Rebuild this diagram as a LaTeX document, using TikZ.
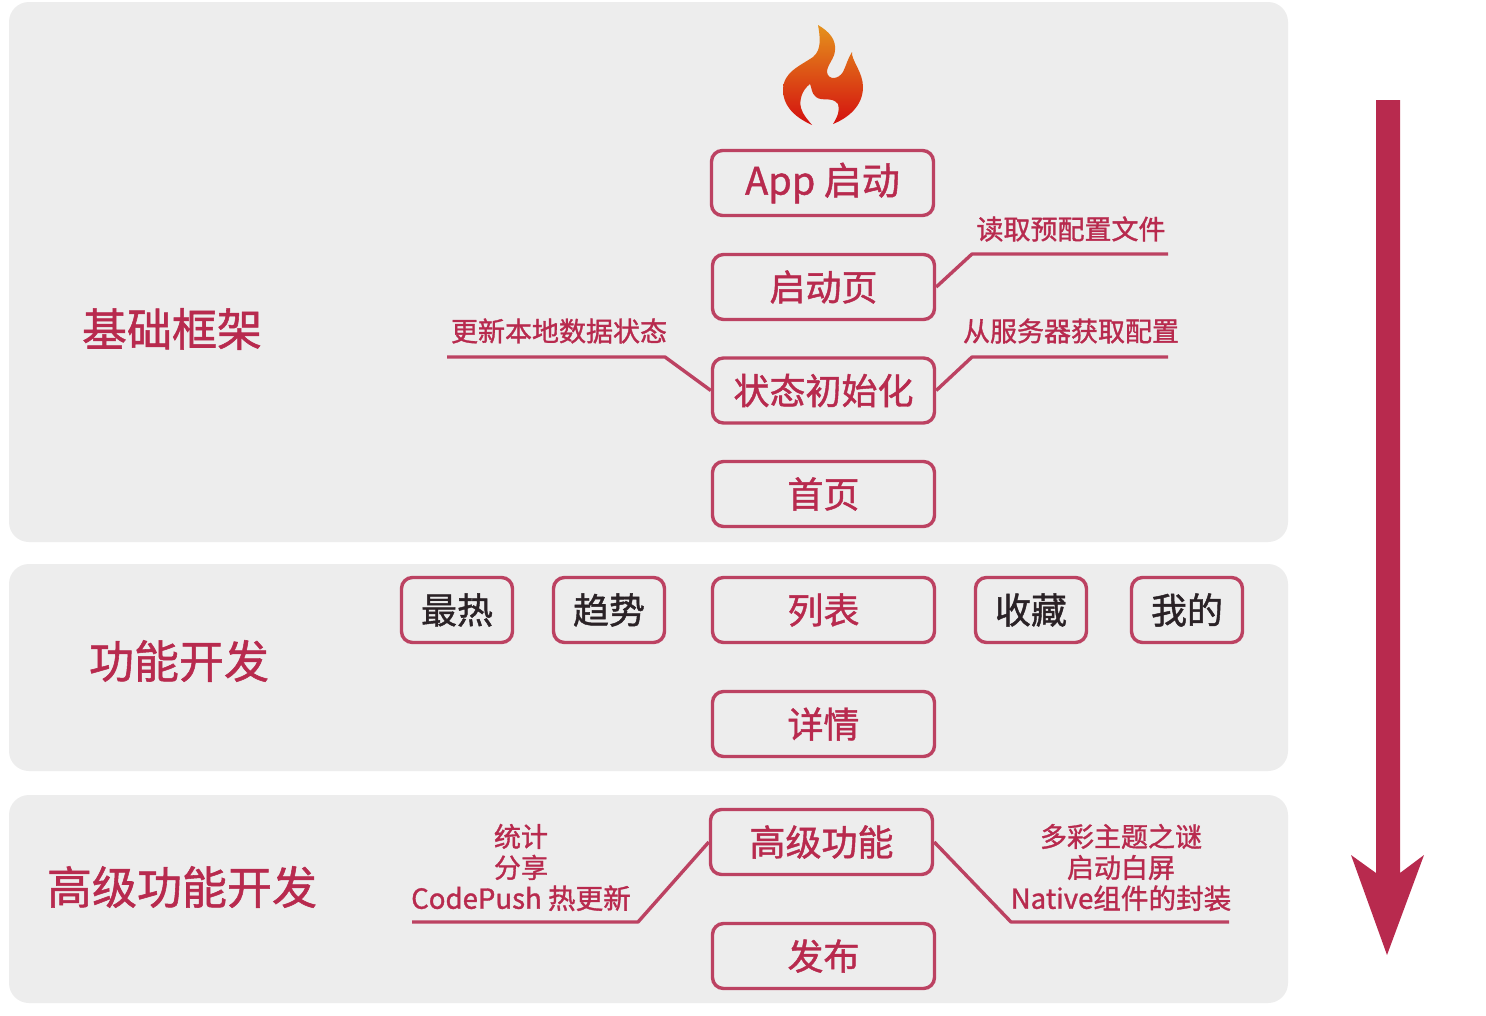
\documentclass[tikz,border=0pt]{standalone}
\usepackage{fontspec}
\setmainfont[RawFeature={embolden=1.2}]{Noto Sans CJK SC}
\usetikzlibrary{calc}
\definecolor{brandred}{HTML}{B82A4E}
\definecolor{boxedge}{HTML}{BC4262}
\definecolor{panelgray}{HTML}{EDEDED}
\definecolor{darktext}{HTML}{2A2226}
\definecolor{flametop}{HTML}{E5921C}
\definecolor{flamebot}{HTML}{D40F0F}
\tikzset{
  panel/.style={fill=panelgray,draw=none,rounded corners=20pt},
  flowbox/.style={draw=boxedge,line width=3.4pt,rounded corners=11pt,fill=panelgray,minimum width=222pt,minimum height=65pt,inner sep=0pt,text=brandred,font=\fontsize{36}{40}\selectfont},
  smallbox/.style={flowbox,minimum width=111pt,text=darktext},
  heading/.style={text=brandred,font=\fontsize{45}{50}\selectfont,inner sep=0pt},
  note/.style={text=brandred,font=\fontsize{27}{31}\selectfont,inner sep=0pt,align=center},
  leader/.style={draw=boxedge,line width=3.4pt,line join=round}
}
\newcommand{\wideline}{\fontsize{27.6}{31}\selectfont}
\begin{document}
\begin{tikzpicture}[x=1pt,y=-1pt]
\useasboundingbox (0,0) rectangle (1486,1015);
\fill[white] (0,0) rectangle (1486,1015);
\path[panel] (9,2) rectangle (1288,542);
\path[panel] (9,564) rectangle (1288,771);
\path[panel] (9,795) rectangle (1288,1003);
% flame
\shade[top color=flametop,bottom color=flamebot,draw=none]
  (812,125) .. controls (792,116) and (783,104) .. (783,90)
  .. controls (783,72) and (800,66) .. (813,57)
  .. controls (822,50) and (820,36) .. (818,25)
  .. controls (830,32) and (836,40) .. (835,50)
  .. controls (835,58) and (827,65) .. (827,72)
  .. controls (828,80) and (838,80) .. (843,72)
  .. controls (846,66) and (848,58) .. (852,52)
  .. controls (851,60) and (863,72) .. (863,87)
  .. controls (863,106) and (848,118) .. (833,124)
  .. controls (838,116) and (840,110) .. (838,104)
  .. controls (832,96) and (822,102) .. (816,97)
  .. controls (811,93) and (812,88) .. (810,84)
  .. controls (802,90) and (799,100) .. (801,108)
  .. controls (803,115) and (808,120) .. (812,125) -- cycle;
% headings
\node[heading] (hbase) at (172,329) {基础框架};
\node[heading] (hfunc) at (179,661) {功能开发};
\node[heading] (hadv) at (182,887) {高级功能开发};
% flow boxes
\node[flowbox] (app) at (822.5,183) {\fontsize{38}{40}\selectfont App 启动};
\node[flowbox] (splash) at (823.5,287) {启动页};
\node[flowbox] (state) at (823.5,390.5) {状态初始化};
\node[flowbox] (home) at (823.5,494) {首页};
\node[flowbox] (list) at (823.5,610) {列表};
\node[flowbox] (detail) at (823.5,724) {详情};
\node[flowbox] (adv) at (821.5,842) {高级功能};
\node[flowbox] (pub) at (823.5,956) {发布};
\node[smallbox] (hot) at (457,610) {最热};
\node[smallbox] (trend) at (609,610) {趋势};
\node[smallbox] (fav) at (1031,610) {收藏};
\node[smallbox] (mine) at (1187,610) {我的};
% notes
\node[note] (n1) at (1071,229) {读取预配置文件};
\node[note] (n2) at (1071,331) {从服务器获取配置};
\node[note] (n3) at (559,331) {更新本地数据状态};
\node[note] (n4) at (521,867.5) {统计\\分享\\{\wideline CodePush 热更新}};
\node[note] (n5) at (1121,867.5) {多彩主题之谜\\启动白屏\\{\wideline Native组件的封装}};
% leader ends
\coordinate (e1a) at (972,254); \coordinate (e1b) at (1168,254);
\coordinate (e2a) at (972,357); \coordinate (e2b) at (1168,357);
\coordinate (e3a) at (665,357); \coordinate (e3b) at (447,357);
\coordinate (e4a) at (638,922); \coordinate (e4b) at (412,922);
\coordinate (e5a) at (1011,922); \coordinate (e5b) at (1229,922);
\draw[leader] (splash.east) -- (e1a) -- (e1b);
\draw[leader] (state.east) -- (e2a) -- (e2b);
\draw[leader] (state.west) -- (e3a) -- (e3b);
\draw[leader] (adv.west) -- (e4a) -- (e4b);
\draw[leader] (adv.east) -- (e5a) -- (e5b);
% big arrow
\fill[brandred] (1376,100) -- (1400,100) -- (1400,873) -- (1424,855) -- (1387,955) -- (1351,855) -- (1376,873) -- cycle;
\end{tikzpicture}
\end{document}
